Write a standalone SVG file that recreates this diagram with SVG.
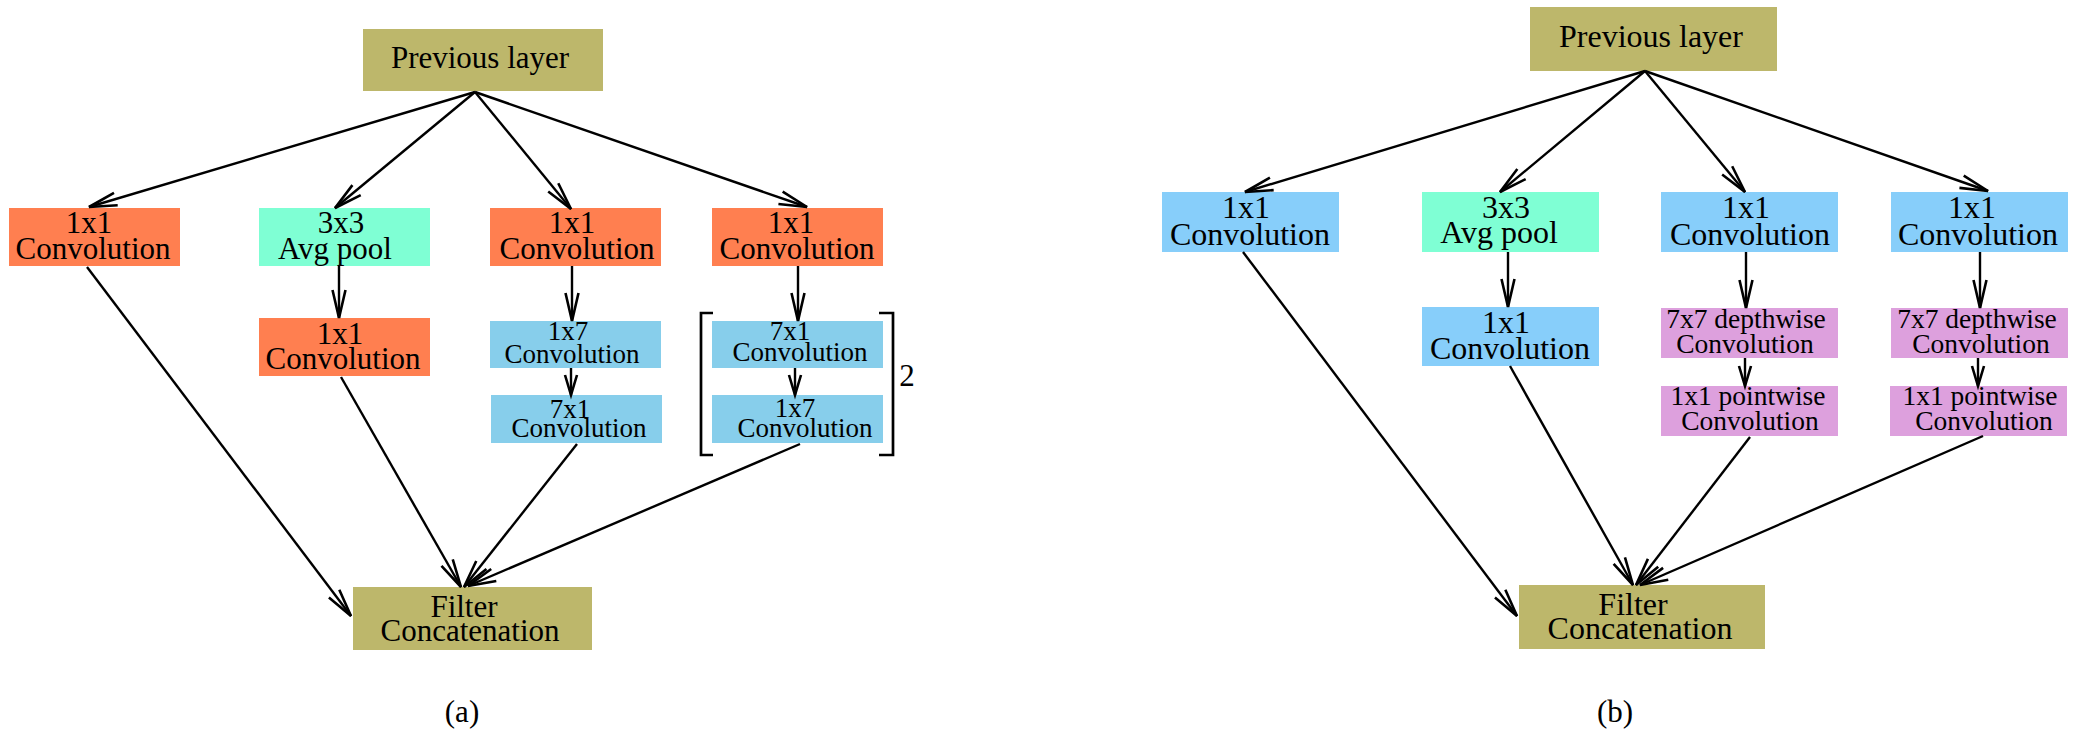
<svg xmlns="http://www.w3.org/2000/svg" width="2086" height="756" viewBox="0 0 2086 756">
<style>
text{font-family:"Liberation Serif","Times New Roman",serif;fill:#000;text-anchor:middle}
.f31{font-size:31px}.f27{font-size:27px}.f32{font-size:32px}.f28{font-size:27.5px}
.khaki{fill:#BDB76B}.coral{fill:#FF7F50}.aqua{fill:#7FFFD4}.sky{fill:#87CEEB}.lsky{fill:#87CEFA}.plum{fill:#DDA0DD}
.c line{stroke:#000;stroke-width:2.4;fill:none}
.big{marker-end:url(#ah)}.small{marker-end:url(#ahs)}
.br{stroke:#000;stroke-width:2.7;fill:none}
</style>
<defs>
<marker id="ah" markerUnits="userSpaceOnUse" orient="auto" refX="0" refY="0" markerWidth="40" markerHeight="20" overflow="visible">
<path d="M-28,-6.5 L0,0 L-28,6.5" fill="none" stroke="#000" stroke-width="2.6"/>
</marker>
<marker id="ahs" markerUnits="userSpaceOnUse" orient="auto" refX="0" refY="0" markerWidth="30" markerHeight="20" overflow="visible">
<path d="M-20,-6 L0,0 L-20,6" fill="none" stroke="#000" stroke-width="2.6"/>
</marker>
</defs>
<rect width="2086" height="756" fill="#fff"/>

<!-- Panel (a) -->
<g id="a_prev"><rect class="khaki" x="363" y="29" width="240" height="62"/><text class="f31" x="480" y="68">Previous layer</text></g>
<g id="a_conv1"><rect class="coral" x="9" y="208" width="171" height="58"/><text class="f31"><tspan x="89" y="233">1x1</tspan><tspan x="93" y="259">Convolution</tspan></text></g>
<g id="a_pool"><rect class="aqua" x="259" y="208" width="171" height="58"/><text class="f31"><tspan x="341" y="233">3x3</tspan><tspan x="335" y="259">Avg pool</tspan></text></g>
<g id="a_pool_conv"><rect class="coral" x="259" y="318" width="171" height="58"/><text class="f31"><tspan x="340" y="344">1x1</tspan><tspan x="343" y="369">Convolution</tspan></text></g>
<g id="a_conv3"><rect class="coral" x="490" y="208" width="171" height="58"/><text class="f31"><tspan x="572" y="233">1x1</tspan><tspan x="577" y="259">Convolution</tspan></text></g>
<g id="a_conv3_1x7"><rect class="sky" x="490" y="321" width="171" height="47"/><text class="f27"><tspan x="568" y="340">1x7</tspan><tspan x="572" y="363">Convolution</tspan></text></g>
<g id="a_conv3_7x1"><rect class="sky" x="491" y="395" width="171" height="48"/><text class="f27"><tspan x="570" y="418">7x1</tspan><tspan x="579" y="437">Convolution</tspan></text></g>
<g id="a_conv4"><rect class="coral" x="712" y="208" width="171" height="58"/><text class="f31"><tspan x="791" y="233">1x1</tspan><tspan x="797" y="259">Convolution</tspan></text></g>
<g id="a_conv4_7x1"><rect class="sky" x="712" y="321" width="171" height="47"/><text class="f27"><tspan x="790" y="340">7x1</tspan><tspan x="800" y="361">Convolution</tspan></text></g>
<g id="a_conv4_1x7"><rect class="sky" x="712" y="395" width="171" height="48"/><text class="f27"><tspan x="795" y="417">1x7</tspan><tspan x="805" y="437">Convolution</tspan></text></g>
<g id="a_bracket">
<path class="br" d="M713,313 H701 V455 H713"/>
<path class="br" d="M879,313 H893 V455 H879"/>
<text class="f31" x="907" y="386">2</text>
</g>
<g id="a_filter"><rect class="khaki" x="353" y="587" width="239" height="63"/><text class="f31"><tspan x="464" y="617">Filter</tspan><tspan x="470" y="641">Concatenation</tspan></text></g>
<text id="a_label" class="f31" x="462" y="722">(a)</text>

<!-- Panel (b) -->
<g id="b_prev"><rect class="khaki" x="1530" y="7" width="247" height="64"/><text class="f32" x="1651" y="47">Previous layer</text></g>
<g id="b_conv1"><rect class="lsky" x="1162" y="192" width="177" height="60"/><text class="f32"><tspan x="1246" y="218">1x1</tspan><tspan x="1250" y="245">Convolution</tspan></text></g>
<g id="b_pool"><rect class="aqua" x="1422" y="192" width="177" height="60"/><text class="f32"><tspan x="1506" y="218">3x3</tspan><tspan x="1499" y="243">Avg pool</tspan></text></g>
<g id="b_pool_conv"><rect class="lsky" x="1422" y="307" width="177" height="59"/><text class="f32"><tspan x="1506" y="333">1x1</tspan><tspan x="1510" y="359">Convolution</tspan></text></g>
<g id="b_conv3"><rect class="lsky" x="1661" y="192" width="177" height="60"/><text class="f32"><tspan x="1746" y="218">1x1</tspan><tspan x="1750" y="245">Convolution</tspan></text></g>
<g id="b_conv3_dw"><rect class="plum" x="1661" y="308" width="177" height="50"/><text class="f28"><tspan x="1746" y="328">7x7 depthwise</tspan><tspan x="1745" y="353">Convolution</tspan></text></g>
<g id="b_conv3_pw"><rect class="plum" x="1661" y="386" width="177" height="50"/><text class="f28"><tspan x="1748" y="405">1x1 pointwise</tspan><tspan x="1750" y="430">Convolution</tspan></text></g>
<g id="b_conv4"><rect class="lsky" x="1891" y="192" width="177" height="60"/><text class="f32"><tspan x="1972" y="218">1x1</tspan><tspan x="1978" y="245">Convolution</tspan></text></g>
<g id="b_conv4_dw"><rect class="plum" x="1891" y="308" width="177" height="50"/><text class="f28"><tspan x="1977" y="328">7x7 depthwise</tspan><tspan x="1981" y="353">Convolution</tspan></text></g>
<g id="b_conv4_pw"><rect class="plum" x="1890" y="386" width="177" height="50"/><text class="f28"><tspan x="1980" y="405">1x1 pointwise</tspan><tspan x="1984" y="430">Convolution</tspan></text></g>
<g id="b_filter"><rect class="khaki" x="1519" y="585" width="246" height="64"/><text class="f32"><tspan x="1633" y="615">Filter</tspan><tspan x="1640" y="639">Concatenation</tspan></text></g>
<text id="b_label" class="f31" x="1615" y="722">(b)</text>

<!-- Connectors -->
<g id="connectors" class="c">
<line class="big" x1="475" y1="92" x2="89" y2="207"/>
<line class="big" x1="475" y1="92" x2="335" y2="208"/>
<line class="big" x1="475" y1="92" x2="571" y2="209"/>
<line class="big" x1="475" y1="92" x2="807" y2="207"/>
<line class="big" x1="339" y1="266" x2="339" y2="318"/>
<line class="big" x1="572" y1="266" x2="572" y2="321"/>
<line class="small" x1="571" y1="368" x2="571" y2="395"/>
<line class="big" x1="798" y1="266" x2="798" y2="321"/>
<line class="small" x1="795" y1="368" x2="795" y2="395"/>
<line class="big" x1="87" y1="267" x2="351" y2="616"/>
<line class="big" x1="341" y1="377" x2="461" y2="587"/>
<line class="big" x1="577" y1="444" x2="464" y2="587"/>
<line class="big" x1="800" y1="444" x2="468" y2="586"/>

<line class="big" x1="1645" y1="71" x2="1245" y2="192"/>
<line class="big" x1="1645" y1="71" x2="1500" y2="192"/>
<line class="big" x1="1645" y1="71" x2="1745" y2="192"/>
<line class="big" x1="1645" y1="71" x2="1988" y2="191"/>
<line class="big" x1="1508" y1="252" x2="1508" y2="307"/>
<line class="big" x1="1746" y1="252" x2="1746" y2="308"/>
<line class="big" x1="1980" y1="252" x2="1980" y2="308"/>
<line class="small" x1="1745" y1="358" x2="1745" y2="386"/>
<line class="small" x1="1978" y1="358" x2="1978" y2="386"/>
<line class="big" x1="1243" y1="252" x2="1517" y2="616"/>
<line class="big" x1="1510" y1="366" x2="1633" y2="585"/>
<line class="big" x1="1750" y1="437" x2="1636" y2="585"/>
<line class="big" x1="1983" y1="436" x2="1640" y2="585"/>
</g>
</svg>
